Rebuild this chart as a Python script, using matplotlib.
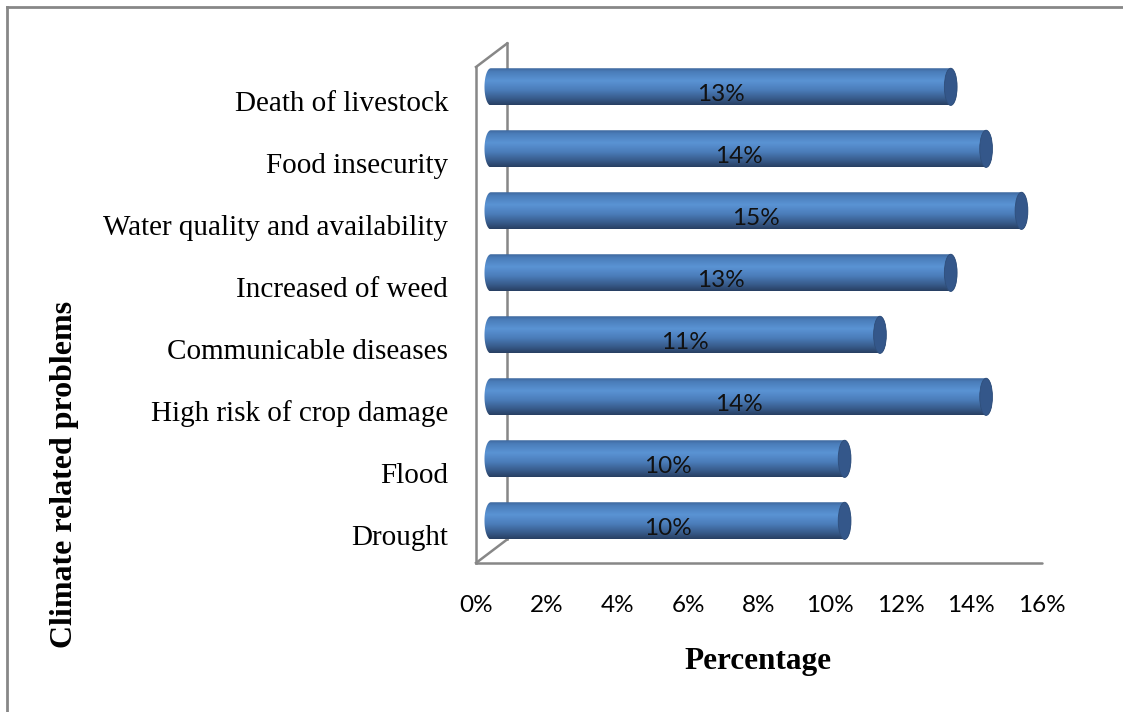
import numpy as np
import matplotlib
matplotlib.use("Agg")
import matplotlib.pyplot as plt
from matplotlib.colors import LinearSegmentedColormap
from matplotlib.patches import Polygon, Ellipse
from matplotlib.lines import Line2D
from matplotlib.transforms import ScaledTranslation

problems = ["Drought", "Flood", "High risk of crop damage", "Communicable diseases",
            "Increased of weed", "Water quality and availability", "Food insecurity",
            "Death of livestock"]
percent = [10, 10, 14, 11, 13, 15, 14, 13]
x_ticks = [0, 2, 4, 6, 8, 10, 12, 14, 16]

SERIF = "Liberation Serif"
SANS = "Lato"
EDGE = "#878787"

# 3d look: depth of the box and where the cylinders sit inside it
DEPTH_X, DEPTH_Y = 0.88, 0.38
BAR_DX, BAR_DY = 0.42, 0.18
BAR_H = 0.6
CAP_W = 0.18

cyl_cmap = LinearSegmentedColormap.from_list("cyl", [
    (0.0, "#3B6296"), (0.12, "#4A7DB9"), (0.36, "#5A93D4"),
    (0.6, "#4B7DBA"), (0.84, "#375A89"), (1.0, "#283F62")])

fig = plt.figure(figsize=(11.23, 7.12), dpi=100)
ax = fig.add_axes([476 / 1123, 149 / 712, 566 / 1123, 496 / 712])

# box outline: front floor edge, front wall edge, back wall and the slanted joins
ax.plot([0, 16], [-0.5, -0.5], color=EDGE, lw=1.8, clip_on=False, zorder=1,
        solid_capstyle="round")
ax.plot([0, 0], [-0.5, 7.5], color=EDGE, lw=1.8, clip_on=False, zorder=1)
ax.plot([0, DEPTH_X], [7.5, 7.5 + DEPTH_Y], color=EDGE, lw=1.8, clip_on=False, zorder=1)
ax.plot([DEPTH_X, DEPTH_X], [7.5 + DEPTH_Y, -0.5 + DEPTH_Y], color=EDGE, lw=1.8,
        clip_on=False, zorder=1)
ax.plot([0, DEPTH_X], [-0.5, -0.5 + DEPTH_Y], color=EDGE, lw=1.8, clip_on=False, zorder=1)

grad = np.linspace(0, 1, 200).reshape(-1, 1)
t_left = np.linspace(np.pi / 2, 3 * np.pi / 2, 40)
t_right = np.linspace(-np.pi / 2, np.pi / 2, 40)

for i, v in enumerate(percent):
    yc = i + BAR_DY
    x0, x1 = BAR_DX, BAR_DX + v
    left = np.column_stack([x0 + CAP_W * np.cos(t_left), yc + BAR_H / 2 * np.sin(t_left)])
    right = np.column_stack([x1 + CAP_W * np.cos(t_right), yc + BAR_H / 2 * np.sin(t_right)])
    outline = Polygon(np.vstack([left, right]), closed=True, transform=ax.transData)
    im = ax.imshow(grad, cmap=cyl_cmap, aspect="auto", origin="upper",
                   extent=(x0 - CAP_W, x1 + CAP_W, yc - BAR_H / 2, yc + BAR_H / 2),
                   zorder=3, interpolation="bilinear")
    im.set_clip_path(outline)
    ax.add_patch(Ellipse((x1, yc), 2 * CAP_W, BAR_H, facecolor="#34578A",
                         edgecolor="#2F4E7A", lw=0.6, zorder=4))
    ax.text((x0 + x1) / 2, i + 0.06, f"{v}%", ha="center", va="center",
            fontsize=17.5, family=SANS, color="#111111", zorder=5)

ax.set_xlim(0, 16)
ax.set_ylim(-0.5, 7.5)
ax.set_xticks(x_ticks, [f"{t}%" for t in x_ticks], fontsize=17.5, family=SANS)
ax.set_yticks(range(len(problems)), problems, fontsize=21, family=SERIF)
ax.tick_params(axis="x", length=0, pad=23)
ax.tick_params(axis="y", length=0, pad=20)
shift_down = ScaledTranslation(0, -2 / 72, fig.dpi_scale_trans)
for lbl in ax.get_yticklabels():
    lbl.set_transform(lbl.get_transform() + shift_down)
for s in ax.spines.values():
    s.set_visible(False)

fig.text(758 / 1123, 1 - 662 / 712, "Percentage", ha="center", va="center",
         fontsize=22.5, fontweight="bold", family=SERIF)
fig.text(65 / 1123, 1 - 474 / 712, "Climate related problems", ha="center", va="center",
         rotation=90, fontsize=23, fontweight="bold", family=SERIF)

# outer frame, only its top and left edges fall inside the image
fig.add_artist(Line2D([7 / 1123, 1.0], [1 - 7 / 712, 1 - 7 / 712], color=EDGE, lw=2,
                      transform=fig.transFigure))
fig.add_artist(Line2D([7 / 1123, 7 / 1123], [0.0, 1 - 7 / 712], color=EDGE, lw=2,
                      transform=fig.transFigure))

fig.savefig("out.png", dpi=100)
